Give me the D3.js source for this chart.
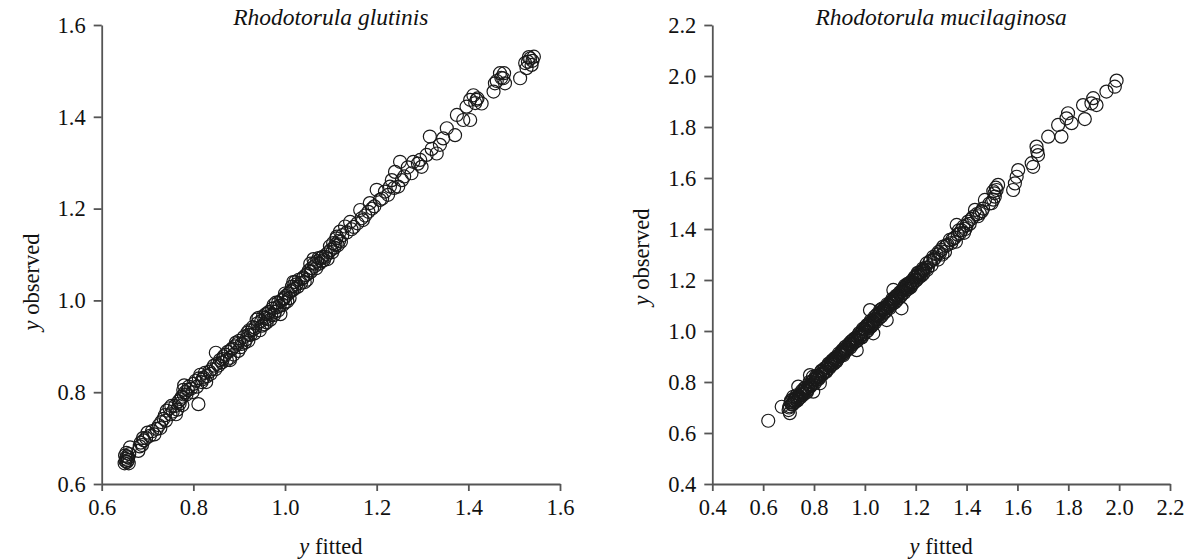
<!DOCTYPE html>
<html>
<head>
<meta charset="utf-8">
<script src="https://cdn.jsdelivr.net/npm/d3@7"></script>
<style>
  html, body { margin: 0; padding: 0; background: #fff; }
  svg { display: block; }
  text { font-family: "Liberation Serif", "Times New Roman", serif; fill: #111; }
</style>
</head>
<body>
<svg id="chart" width="1189" height="560"></svg>
<script>
// ---- Data (fitted, observed) ----
const glutinisTitle = "Rhodotorula glutinis";
const mucilaginosaTitle = "Rhodotorula mucilaginosa";

const glutinisTicks = [0.6, 0.8, 1.0, 1.2, 1.4, 1.6];
const mucilaginosaTicks = [0.4, 0.6, 0.8, 1.0, 1.2, 1.4, 1.6, 1.8, 2.0, 2.2];

const glutinisPoints = [
  [0.650,0.645],[0.652,0.650],[0.653,0.655],[0.655,0.660],[0.657,0.652],[0.660,0.665],[0.662,0.680],[0.655,0.648],[0.658,0.658],[0.651,0.662],
  [0.680,0.672],[0.685,0.690],[0.690,0.700],[0.692,0.695],[0.700,0.712],[0.705,0.705],[0.710,0.715],[0.688,0.685],
  [0.720,0.720],[0.725,0.728],[0.730,0.735],[0.735,0.742],[0.740,0.738],[0.742,0.760],[0.748,0.765],[0.750,0.752],[0.755,0.758],
  [0.760,0.770],[0.765,0.762],[0.770,0.775],[0.772,0.785],[0.775,0.790],[0.778,0.805],[0.780,0.815],[0.782,0.800],[0.785,0.795],
  [0.790,0.812],[0.795,0.808],[0.800,0.818],[0.805,0.825],[0.811,0.774],[0.812,0.830],[0.815,0.838],[0.818,0.822],[0.822,0.832],
  [0.825,0.842],[0.830,0.835],[0.835,0.845],[0.840,0.850],[0.845,0.858],[0.849,0.886],[0.852,0.862],[0.858,0.870],[0.862,0.865],
  [0.866,0.878],[0.870,0.882],[0.875,0.888],[0.880,0.875],[0.885,0.895],[0.890,0.900],[0.893,0.908],[0.898,0.890],[0.900,0.912],
  [0.905,0.905],[0.910,0.920],[0.915,0.915],[0.918,0.930],[0.922,0.935],[0.925,0.925],[0.930,0.942],[0.935,0.940],[0.940,0.950],
  [0.942,0.962],[0.945,0.935],[0.948,0.955],[0.952,0.965],[0.955,0.948],[0.958,0.970],[0.962,0.960],[0.965,0.975],[0.970,0.968],
  [0.972,0.982],[0.975,0.990],[0.978,0.975],[0.982,0.985],[0.985,0.995],[0.990,0.970],[0.992,1.000],[0.995,0.990],[0.998,1.005],
  [1.002,1.010],[1.005,0.998],[1.008,1.015],[1.012,1.020],[1.015,1.030],[1.018,1.040],[1.020,1.025],[1.025,1.035],[1.030,1.045],
  [1.035,1.038],[1.040,1.050],[1.045,1.055],[1.048,1.045],[1.052,1.065],[1.055,1.080],[1.058,1.070],[1.062,1.090],[1.065,1.075],
  [1.070,1.085],[1.075,1.080],[1.078,1.092],[1.082,1.095],[1.085,1.088],[1.090,1.100],[1.095,1.105],[1.100,1.110],[1.105,1.125],
  [1.108,1.115],[1.112,1.135],[1.115,1.120],[1.118,1.130],[0.960,0.952],[0.985,0.978],[1.000,0.995],[0.920,0.912],[0.880,0.870],
  [1.113,1.139],[1.120,1.150],[1.131,1.161],[1.142,1.171],[1.164,1.197],[1.167,1.179],[1.182,1.193],[1.185,1.212],[1.200,1.241],
  [1.207,1.219],[1.218,1.237],[1.229,1.248],[1.233,1.262],[1.240,1.280],[1.247,1.248],[1.251,1.302],[1.276,1.277],[1.280,1.302],
  [1.295,1.306],[1.298,1.291],[1.309,1.317],[1.316,1.357],[1.331,1.320],[1.338,1.339],[1.345,1.353],[1.353,1.375],[1.371,1.360],
  [1.375,1.404],[1.389,1.393],[1.404,1.393],[1.396,1.422],[1.404,1.437],[1.411,1.447],[1.418,1.437],[1.429,1.429],[1.415,1.430],
  [1.455,1.455],[1.458,1.473],[1.469,1.495],[1.476,1.484],[1.480,1.473],[1.472,1.485],[1.513,1.484],[1.524,1.517],[1.527,1.506],
  [1.535,1.527],[1.538,1.513],[1.543,1.531],[1.530,1.520],[1.150,1.160],[1.175,1.185],[1.195,1.205],[1.225,1.230],[1.260,1.270],
  [0.654,0.668],[0.659,0.645],[0.683,0.682],[0.697,0.700],[0.715,0.708],[0.728,0.722],[0.738,0.750],[0.752,0.770],[0.762,0.752],
  [0.768,0.780],[0.776,0.772],[0.779,0.795],[0.788,0.805],[0.798,0.800],[0.808,0.812],[0.820,0.828],[0.828,0.822],[0.838,0.840],
  [0.848,0.850],[0.855,0.858],[0.864,0.872],[0.873,0.870],[0.882,0.892],[0.888,0.882],[0.896,0.905],[0.903,0.898],[0.912,0.908],
  [0.920,0.925],[0.928,0.935],[0.933,0.928],[0.938,0.958],[0.950,0.945],[0.957,0.962],[0.963,0.972],[0.968,0.958],[0.976,0.968],
  [0.980,0.995],[0.988,0.988],[0.996,1.002],[1.000,1.015],[1.010,1.005],[1.016,1.022],[1.022,1.040],[1.028,1.030],[1.038,1.048],
  [1.043,1.040],[1.050,1.058],[1.056,1.062],[1.063,1.080],[1.068,1.070],[1.073,1.092],[1.080,1.085],[1.088,1.095],[1.093,1.090],
  [1.098,1.118],[1.103,1.105],[1.110,1.122],[1.122,1.128],[1.125,1.142],[1.135,1.148],[1.145,1.155],[1.158,1.168],[1.170,1.175],
  [1.190,1.200],[1.212,1.222],[1.238,1.245],[1.255,1.262],[1.268,1.290],[1.290,1.298],[1.320,1.330],[1.420,1.440],[1.462,1.478],
  [1.478,1.495],[1.532,1.530],[1.540,1.522]
];

const mucilaginosaPoints = [
  [0.620,0.648],[0.673,0.703],[0.705,0.678],[0.700,0.690],[0.705,0.705],[0.708,0.720],[0.712,0.712],[0.715,0.730],[0.718,0.742],
  [0.720,0.718],[0.725,0.735],[0.730,0.740],[0.735,0.728],[0.738,0.782],[0.740,0.745],[0.745,0.752],[0.750,0.748],[0.755,0.760],
  [0.760,0.755],[0.765,0.770],[0.770,0.765],[0.775,0.778],[0.780,0.790],[0.784,0.827],[0.785,0.782],[0.790,0.800],[0.795,0.820],
  [0.797,0.762],[0.800,0.798],[0.805,0.812],[0.810,0.808],[0.815,0.825],[0.820,0.818],[0.823,0.795],[0.825,0.830],[0.830,0.845],
  [0.835,0.832],[0.840,0.850],[0.845,0.842],[0.850,0.858],[0.855,0.865],[0.860,0.855],[0.865,0.872],[0.870,0.868],[0.875,0.880],
  [0.880,0.890],[0.885,0.885],[0.890,0.895],[0.895,0.902],[0.900,0.898],[0.905,0.912],[0.910,0.908],[0.915,0.920],[0.920,0.930],
  [0.925,0.922],[0.930,0.935],[0.935,0.945],[0.940,0.940],[0.945,0.950],[0.950,0.962],[0.955,0.955],[0.960,0.965],[0.965,0.972],
  [0.968,0.925],[0.970,0.962],[0.975,0.985],[0.980,0.978],[0.985,0.990],[0.990,0.998],[0.995,0.988],[1.000,1.005],[1.005,1.015],
  [1.010,1.000],[1.015,1.020],[1.020,1.082],[1.020,1.030],[1.025,1.018],[1.030,1.040],[1.033,0.991],[1.035,1.035],[1.040,1.048],
  [1.045,1.060],[1.050,1.045],[1.055,1.065],[1.060,1.070],[1.065,1.058],[1.070,1.080],[1.075,1.085],[1.080,1.075],[1.085,1.095],
  [1.086,1.043],[1.090,1.090],[1.095,1.105],[1.100,1.098],[1.105,1.115],[1.110,1.108],[1.112,1.161],[1.115,1.125],[1.120,1.130],
  [1.125,1.120],[1.130,1.140],[1.135,1.145],[1.140,1.135],[1.144,1.089],[1.145,1.155],[1.150,1.160],[1.155,1.150],[1.160,1.170],
  [1.165,1.178],[1.170,1.165],[1.175,1.185],[1.180,1.190],[1.185,1.182],[1.190,1.200],[1.195,1.210],[1.200,1.198],[1.205,1.215],
  [1.210,1.220],[1.215,1.212],[1.220,1.228],[1.225,1.235],[1.230,1.225],[1.229,1.239],[1.243,1.265],[1.269,1.291],[1.295,1.305],
  [0.722,0.728],[0.742,0.738],[0.762,0.775],[0.772,0.760],[0.792,0.790],[0.812,0.820],[0.832,0.828],[0.852,0.848],[0.872,0.885],
  [0.892,0.888],[0.912,0.925],[0.932,0.928],[0.952,0.948],[0.972,0.978],[0.992,1.008],[1.012,1.025],[1.032,1.028],[1.052,1.058],
  [1.072,1.068],[1.092,1.100],[1.112,1.118],[1.132,1.128],[1.152,1.168],[1.172,1.178],[1.192,1.190],[1.212,1.228],[1.232,1.240],
  [1.248,1.250],[1.255,1.270],[1.262,1.258],[1.275,1.285],[1.282,1.300],[1.288,1.280],[1.300,1.318],[1.308,1.331],[1.315,1.310],
  [1.325,1.338],[1.334,1.357],[1.340,1.345],[1.352,1.365],[1.361,1.416],[1.365,1.378],[1.374,1.383],[1.380,1.395],[1.387,1.409],
  [1.395,1.400],[1.406,1.429],[1.412,1.420],[1.426,1.448],[1.433,1.475],[1.440,1.458],[1.452,1.462],[1.460,1.470],[1.472,1.514],
  [1.498,1.501],[1.505,1.515],[1.511,1.527],[1.518,1.553],[1.524,1.573],[1.510,1.540],[1.583,1.553],[1.590,1.579],[1.597,1.605],
  [1.603,1.631],[1.656,1.658],[1.662,1.644],[1.681,1.690],[1.675,1.723],[1.678,1.705],[1.721,1.762],[1.773,1.762],[1.760,1.808],
  [1.799,1.854],[1.793,1.834],[1.813,1.815],[1.858,1.886],[1.865,1.831],[1.891,1.893],[1.898,1.913],[1.911,1.886],[1.950,1.939],
  [1.983,1.958],[1.990,1.982],[0.915,0.905],[0.945,0.958],[0.985,0.975],[1.040,1.032],[1.060,1.082],[1.100,1.112],[1.180,1.172],
  [0.702,0.700],[0.710,0.728],[0.716,0.712],[0.726,0.722],[0.732,0.748],[0.737,0.735],[0.747,0.740],[0.752,0.765],[0.758,0.750],
  [0.767,0.778],[0.776,0.770],[0.782,0.800],[0.788,0.785],[0.798,0.808],[0.803,0.795],[0.808,0.822],[0.818,0.812],[0.828,0.840],
  [0.838,0.838],[0.843,0.855],[0.848,0.840],[0.858,0.872],[0.863,0.862],[0.868,0.878],[0.878,0.872],[0.883,0.895],[0.888,0.880],
  [0.898,0.912],[0.903,0.905],[0.908,0.918],[0.918,0.912],[0.923,0.938],[0.928,0.925],[0.938,0.950],[0.943,0.935],[0.948,0.945],
  [0.958,0.970],[0.963,0.958],[0.978,0.992],[0.983,0.980],[0.988,0.975],[0.998,1.010],[1.003,0.995],[1.008,1.022],[1.018,1.012],
  [1.023,1.040],[1.028,1.022],[1.038,1.055],[1.043,1.042],[1.048,1.065],[1.058,1.052],[1.063,1.075],[1.068,1.088],[1.078,1.090],
  [1.083,1.080],[1.088,1.105],[1.098,1.090],[1.103,1.108],[1.108,1.125],[1.118,1.112],[1.123,1.138],[1.128,1.135],[1.138,1.152],
  [1.143,1.140],[1.148,1.148],[1.158,1.178],[1.163,1.162],[1.168,1.185],[1.178,1.175],[1.183,1.195],[1.188,1.188],[1.198,1.212],
  [1.203,1.200],[1.208,1.228],[1.218,1.222],[1.223,1.218],[1.228,1.245],[1.238,1.248],[1.245,1.240],[1.258,1.275],[1.270,1.280],
  [1.290,1.310],[1.305,1.300],[1.320,1.335],[1.345,1.360],[1.358,1.350],[1.370,1.395],[1.390,1.385],[1.400,1.415],[1.420,1.440],
  [1.445,1.450],[1.465,1.480],[1.490,1.500],[1.505,1.548],[1.515,1.562]
];

// ---- Layout ----
const svg = d3.select("#chart");
const panels = [
  { title: glutinisTitle, data: glutinisPoints, ticks: glutinisTicks,
    domain: [0.6, 1.6], left: 101.7, right: 560, top: 25, bottom: 484, ylabY: 282 },
  { title: mucilaginosaTitle, data: mucilaginosaPoints, ticks: mucilaginosaTicks,
    domain: [0.4, 2.2], left: 712.3, right: 1170, top: 25, bottom: 484, ylabY: 257 }
];

const fmt = d3.format(".1f");

panels.forEach(p => {
  const x = d3.scaleLinear().domain(p.domain).range([p.left, p.right]);
  const y = d3.scaleLinear().domain(p.domain).range([p.bottom, p.top]);
  const g = svg.append("g");

  const xAxis = g.append("g")
    .attr("transform", `translate(0,${p.bottom})`)
    .call(d3.axisBottom(x).tickValues(p.ticks).tickFormat(fmt).tickSize(7).tickSizeOuter(0).tickPadding(8));
  const yAxis = g.append("g")
    .attr("transform", `translate(${p.left},0)`)
    .call(d3.axisLeft(y).tickValues(p.ticks).tickFormat(fmt).tickSize(8).tickSizeOuter(0).tickPadding(8));

  [xAxis, yAxis].forEach(a => {
    a.select(".domain").attr("stroke", "#555").attr("stroke-width", 1.8);
    a.selectAll(".tick line").attr("stroke", "#555").attr("stroke-width", 1.8);
    a.selectAll(".tick text").attr("font-size", 22.5).attr("fill", "#111")
      .style("font-family", '"Liberation Serif", serif');
  });

  // points
  g.append("g").selectAll("circle")
    .data(p.data)
    .join("circle")
    .attr("cx", d => x(d[0]))
    .attr("cy", d => y(d[1]))
    .attr("r", 6.5)
    .attr("fill", "none")
    .attr("stroke", "#1a1a1a")
    .attr("stroke-width", 1.2);

  const cx = (p.left + p.right) / 2;
  // title
  g.append("text")
    .attr("x", cx).attr("y", 25)
    .attr("text-anchor", "middle")
    .attr("font-size", 23.5)
    .attr("font-style", "italic")
    .text(p.title);

  // x label
  const xl = g.append("text")
    .attr("x", cx).attr("y", 554)
    .attr("text-anchor", "middle")
    .attr("font-size", 22.5);
  xl.append("tspan").attr("font-style", "italic").text("y");
  xl.append("tspan").text(" fitted");

  // y label
  const yl = g.append("text")
    .attr("transform", `translate(${p.left - 63},${p.ylabY}) rotate(-90)`)
    .attr("text-anchor", "middle")
    .attr("font-size", 22.5);
  yl.append("tspan").attr("font-style", "italic").text("y");
  yl.append("tspan").text(" observed");
});
</script>
</body>
</html>
